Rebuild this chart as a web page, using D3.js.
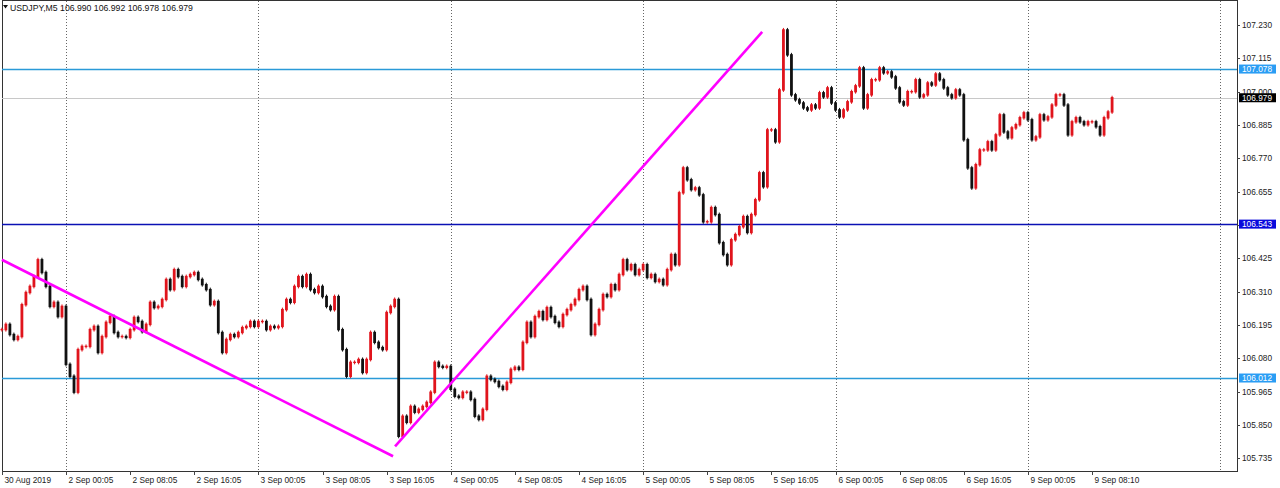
<!DOCTYPE html>
<html><head><meta charset="utf-8">
<script src="https://cdn.jsdelivr.net/npm/d3@7"></script>
<style>body{margin:0;background:#fff;} svg{display:block;font-family:"Liberation Sans",Arial,sans-serif;}</style>
</head><body><svg id="c" width="1280" height="488"></svg>
<script>
// ---- data ----
const symbol = "USDJPY,M5";
const quote = ["106.990", "106.992", "106.978", "106.979"];
// closes sampled every 30 minutes (6 M5 bars), starting 30 Aug 2019 16:05
const closes = [
106.179,106.197,106.162,106.145,106.155,106.265,106.307,106.328,106.362,106.420,
106.376,106.328,106.259,106.273,106.224,106.259,106.059,106.018,105.963,106.110,
106.121,106.121,106.179,106.190,106.100,106.155,106.204,106.224,106.169,106.155,
106.155,106.152,106.179,106.221,106.207,106.172,106.197,106.273,106.255,106.259,
106.283,106.352,106.317,106.386,106.362,106.328,106.362,106.369,106.376,106.352,
106.334,106.317,106.265,106.276,106.169,106.100,106.145,106.162,106.155,106.169,
106.186,106.190,106.207,106.190,106.207,106.207,106.179,106.190,106.186,106.190,
106.248,106.283,106.273,106.328,106.362,106.328,106.369,106.317,106.307,106.328,
106.293,106.259,106.248,106.293,106.179,106.110,106.018,106.066,106.066,106.076,
106.031,106.076,106.169,106.135,106.117,106.110,106.238,106.259,106.283,105.811,
105.880,105.859,105.914,105.894,105.904,105.914,105.928,105.963,106.066,106.052,
106.049,106.052,105.973,105.949,105.945,105.963,105.963,105.938,105.880,105.869,
105.904,106.018,106.007,106.000,105.983,105.973,105.997,106.042,106.049,106.042,
106.135,106.204,106.155,106.224,106.241,106.214,106.255,106.224,106.204,106.190,
106.231,106.248,106.265,106.283,106.317,106.328,106.283,106.162,106.197,106.248,
106.300,106.293,106.334,106.317,106.369,106.420,106.386,106.403,106.369,106.386,
106.403,106.359,106.369,106.345,106.352,106.334,106.386,106.438,106.403,106.651,
106.737,106.696,106.662,106.668,106.644,106.551,106.551,106.600,106.576,106.479,
106.438,106.403,106.489,106.507,106.534,106.569,106.514,106.576,106.627,106.720,
106.672,106.868,106.868,106.827,107.006,107.213,107.127,106.989,106.972,106.961,
106.944,106.937,106.954,106.944,106.996,106.982,107.013,106.961,106.937,106.913,
106.937,106.965,107.000,107.020,107.082,106.944,106.989,107.041,107.041,107.082,
107.065,107.068,107.051,107.013,106.965,106.954,107.000,107.000,107.041,106.982,
106.989,107.030,107.023,107.061,107.041,107.013,106.989,106.979,107.006,106.989,
106.834,106.737,106.668,106.748,106.799,106.799,106.827,106.799,106.851,106.920,
106.861,106.841,106.875,106.886,106.910,106.927,106.903,106.834,106.844,106.920,
106.903,106.913,106.954,106.989,106.989,106.954,106.851,106.896,106.910,106.896,
106.886,106.896,106.896,106.879,106.851,106.910,106.930,106.979
];
const timeLabels = ["30 Aug 2019","2 Sep 00:05","2 Sep 08:05","2 Sep 16:05","3 Sep 00:05","3 Sep 08:05","3 Sep 16:05","4 Sep 00:05","4 Sep 08:05","4 Sep 16:05","5 Sep 00:05","5 Sep 08:05","5 Sep 16:05","6 Sep 00:05","6 Sep 08:05","6 Sep 16:05","9 Sep 00:05","9 Sep 08:10"];
const timeLabelSlots = [0,16,32,48,64,80,96,112,128,144,160,176,192,208,224,240,256,272];
const gridSlots = [16,64,112,160,208,256,304];
const priceTicks = [107.230,107.115,107.000,106.885,106.770,106.655,106.540,106.425,106.310,106.195,106.080,105.965,105.850,105.735];
const levelPrices = [107.078, 106.543, 106.012];
const bidPrice = 106.979;
const trendA = [[0,106.420],[97.6,105.742]];
const trendB = [[98.1,105.776],[189.7,107.206]];

// ---- drawing ----
const svg = d3.select("#c");
const L = 2, R = 1237, T = 0, B = 471;
const x = d3.scaleLinear().domain([0, 304]).range([1.87, 1.87 + 304*4.008]);
const y = d3.scaleLinear().domain([105.735, 107.230]).range([458.3, 25]);

// frame
svg.append("rect").attr("x", L+0.5).attr("y", T+0.5).attr("width", R-L).attr("height", B-T)
  .attr("fill","#fff").attr("stroke","#333").attr("stroke-width",1);

// vertical grid
svg.append("g").selectAll("line").data(gridSlots).join("line")
  .attr("x1", d=>Math.round(x(d))+0.5).attr("x2", d=>Math.round(x(d))+0.5)
  .attr("y1", T+1).attr("y2", B)
  .attr("stroke","#666").attr("stroke-dasharray","1,2").attr("stroke-width",1);

// bid line
svg.append("line").attr("x1",L).attr("x2",R).attr("y1",Math.round(y(bidPrice))+0.5).attr("y2",Math.round(y(bidPrice))+0.5)
  .attr("stroke","#c8c8c8").attr("stroke-width",1);

// horizontal levels
const levelColors = ["#2a9ad8","#0a10b4","#2a9ad8"];
svg.append("g").selectAll("line").data(levelPrices).join("line")
  .attr("x1",L).attr("x2",R)
  .attr("y1", d=>Math.round(y(d))+0.5).attr("y2", d=>Math.round(y(d))+0.5)
  .attr("stroke",(d,i)=>levelColors[i]).attr("stroke-width",1.3);

// candles
const candles = closes.map((c,i)=>({i, o: i>0?closes[i-1]:c, c}));
const cg = svg.append("g");
cg.selectAll("line").data(candles).join("line")
  .attr("x1", d=>x(d.i)).attr("x2", d=>x(d.i))
  .attr("y1", d=>y(Math.max(d.o,d.c))-2).attr("y2", d=>y(Math.min(d.o,d.c))+2)
  .attr("stroke", d=>d.c>=d.o?"#e0141c":"#111").attr("stroke-width",1);
cg.selectAll("rect").data(candles).join("rect")
  .attr("x", d=>x(d.i)-1.4).attr("width", 2.8)
  .attr("y", d=>y(Math.max(d.o,d.c))-0.7)
  .attr("height", d=>Math.abs(y(d.o)-y(d.c))+1.4)
  .attr("fill", d=>d.c>=d.o?"#e0141c":"#111");

// trend lines
const line = d3.line().x(d=>x(d[0])).y(d=>y(d[1]));
[trendA, trendB].forEach(t=>{
  svg.append("path").attr("d", line(t)).attr("stroke","#ff00ff").attr("stroke-width",2.6).attr("fill","none");
});

// price axis
const pa = svg.append("g").attr("font-size","8.3px").attr("fill","#222");
priceTicks.forEach(p=>{
  const yy = Math.round(y(p))+0.5;
  pa.append("line").attr("x1",R).attr("x2",R+3).attr("y1",yy).attr("y2",yy).attr("stroke","#444");
  pa.append("text").attr("x",R+5).attr("y",yy).attr("dy","0.35em").text(p.toFixed(3));
});
// price labels (boxes)
const boxes = levelPrices.map((p,i)=>({p, bg: ["#2a9df4","#0a0adc","#2a9df4"][i]})).concat([{p:bidPrice,bg:"#000"}]);
boxes.forEach(b=>{
  const yy = y(b.p);
  pa.append("rect").attr("x",R+2).attr("y",yy-4.5).attr("width",37).attr("height",9).attr("fill",b.bg);
  pa.append("text").attr("x",R+5).attr("y",yy).attr("dy","0.35em").attr("fill","#fff").text(b.p.toFixed(3));
});

// time axis
const ta = svg.append("g").attr("font-size","8.3px").attr("fill","#222");
timeLabelSlots.forEach((s,i)=>{
  const xx = Math.round(x(s))+0.5;
  ta.append("line").attr("x1",xx).attr("x2",xx).attr("y1",B).attr("y2",B+4).attr("stroke","#444");
  ta.append("text").attr("x",xx+2).attr("y",B+12).text(timeLabels[i]);
});

// header
svg.append("path").attr("d","M3,5 L8,5 L5.5,8.5 Z").attr("fill","#111");
svg.append("text").attr("x",10).attr("y",11).attr("font-size","8.7px").attr("fill","#111")
  .text(symbol + "  " + quote.join(" "));
</script></body></html>
